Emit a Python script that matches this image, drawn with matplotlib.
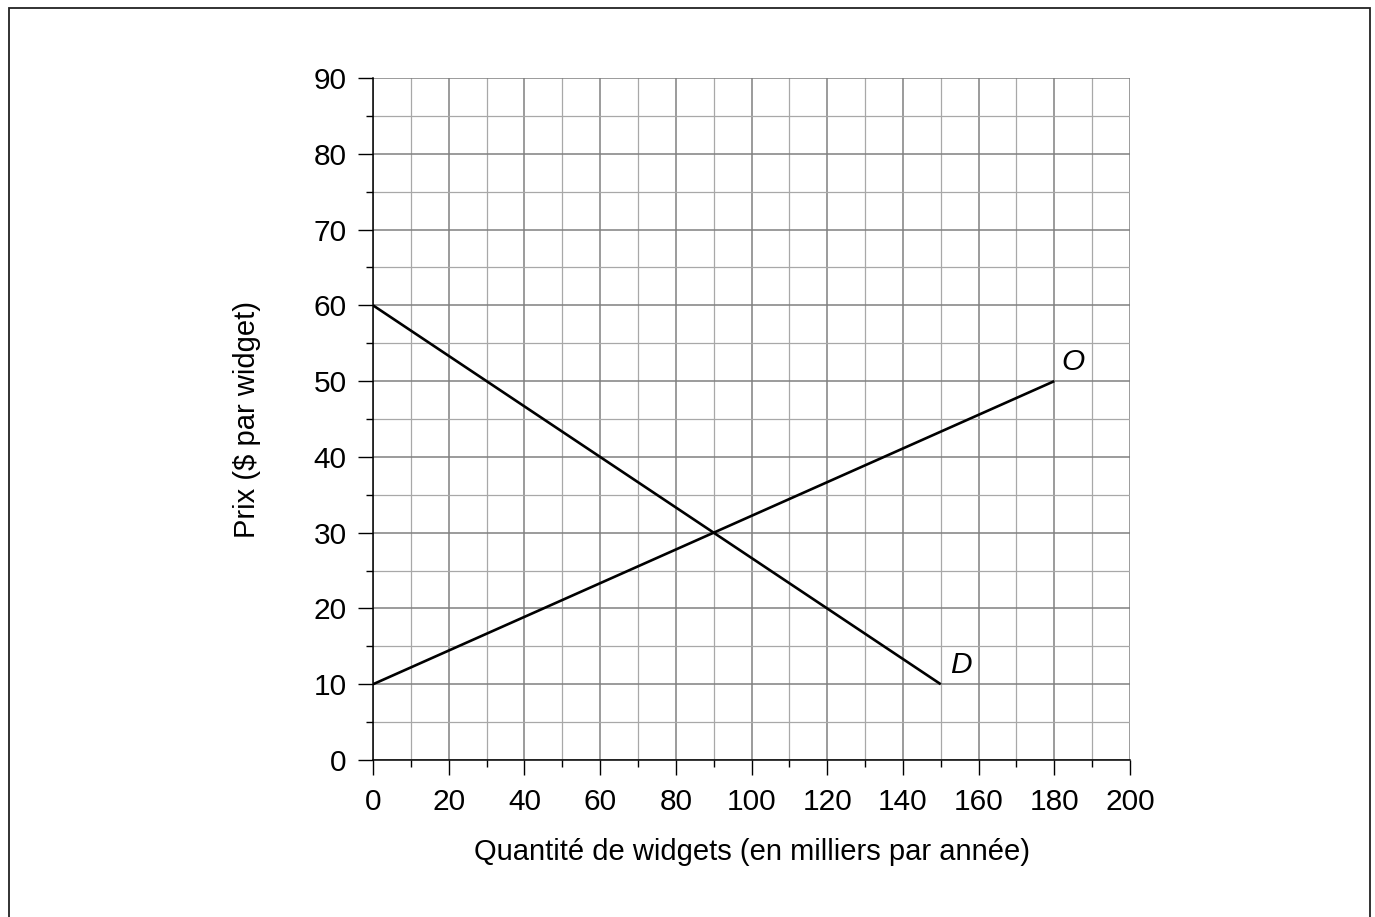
import matplotlib.pyplot as plt
from matplotlib.patches import Rectangle
from matplotlib.ticker import MultipleLocator

plt.rcParams['font.family'] = ['Liberation Sans', 'DejaVu Sans']

# offre (O) et demande (D)
offre_q = [0, 180]
offre_p = [10, 50]
demande_q = [0, 150]
demande_p = [60, 10]

fig = plt.figure(figsize=(13.75, 9.17), dpi=100)
ax = fig.add_axes([0.2713, 0.1712, 0.5505, 0.7437])

ax.set_xlim(0, 200)
ax.set_ylim(0, 90)
ax.xaxis.set_major_locator(MultipleLocator(20))
ax.xaxis.set_minor_locator(MultipleLocator(10))
ax.yaxis.set_major_locator(MultipleLocator(10))
ax.yaxis.set_minor_locator(MultipleLocator(5))

ax.grid(which='major', color='#808080', linewidth=1.1)
ax.grid(which='minor', color='#a8a8a8', linewidth=0.9)
ax.set_axisbelow(True)

for s in ['top', 'right']:
    ax.spines[s].set_visible(False)
for s in ['left', 'bottom']:
    ax.spines[s].set_linewidth(1.1)
    ax.spines[s].set_color('black')

ax.tick_params(which='major', length=11, width=1.0, labelsize=21.5, pad=8)
ax.tick_params(which='minor', length=5, width=1.0)
ax.tick_params(axis='x', which='major', pad=9)

ax.plot(offre_q, offre_p, color='black', linewidth=1.9, solid_capstyle='butt')
ax.plot(demande_q, demande_p, color='black', linewidth=1.9, solid_capstyle='butt')

ax.text(182, 52.5, 'O', fontsize=21.5, style='italic', va='center', ha='left')
ax.text(152.5, 12.5, 'D', fontsize=21.5, style='italic', va='center', ha='left')

ax.set_xlabel('Quantité de widgets (en milliers par année)', fontsize=21, labelpad=16)
ax.set_ylabel('Prix ($ par widget)', fontsize=21, labelpad=38)

# cadre autour de la figure
fig.patches.append(Rectangle((9 / 1375, -0.1), 1361 / 1375, 1.1 - 8 / 917,
                             transform=fig.transFigure, fill=False,
                             edgecolor='#222222', linewidth=1.3))

fig.savefig('out.png', dpi=100)
